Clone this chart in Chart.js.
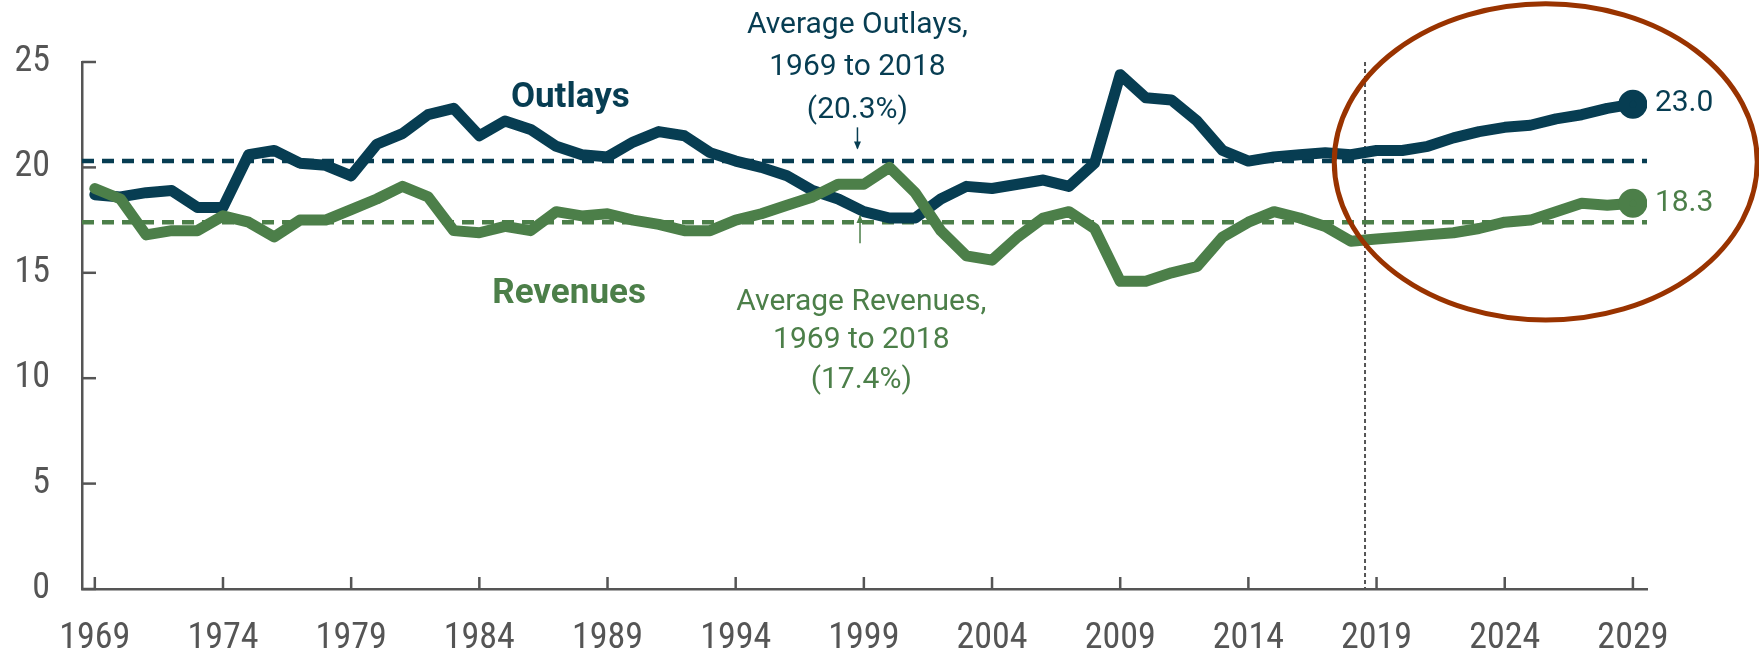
<!DOCTYPE html>
<html>
<head>
<meta charset="utf-8">
<script src="https://cdn.jsdelivr.net/npm/chart.js@4/dist/chart.umd.min.js"></script>
<style>
  html, body { margin: 0; padding: 0; background: #fff; }
  #wrap { width: 1759px; height: 651px; position: relative; }
</style>
</head>
<body>
<div id="wrap"><canvas id="myChart" width="1759" height="651"></canvas></div>
<script>
// Data
const years = [];
for (let y = 1969; y <= 2029; y++) years.push(y);
const outlays = [
  18.7, 18.6, 18.8, 18.9, 18.1, 18.1, 20.6, 20.8, 20.2, 20.1,
  19.6, 21.1, 21.6, 22.5, 22.8, 21.5, 22.2, 21.8, 21.0, 20.6,
  20.5, 21.2, 21.7, 21.5, 20.7, 20.3, 20.0, 19.6, 18.9, 18.5,
  17.9, 17.6, 17.6, 18.5, 19.1, 19.0, 19.2, 19.4, 19.1, 20.2,
  24.4, 23.3, 23.2, 22.2, 20.8, 20.3, 20.5, 20.6, 20.7, 20.6,
  20.8, 20.8, 21.0, 21.4, 21.7, 21.9, 22.0, 22.3, 22.5, 22.8, 23.0
];
const revenues = [
  19.0, 18.5, 16.8, 17.0, 17.0, 17.7, 17.4, 16.7, 17.5, 17.5,
  18.0, 18.5, 19.1, 18.6, 17.0, 16.9, 17.2, 17.0, 17.9, 17.7,
  17.8, 17.5, 17.3, 17.0, 17.0, 17.5, 17.8, 18.2, 18.6, 19.2,
  19.2, 20.0, 18.8, 17.0, 15.8, 15.6, 16.7, 17.6, 17.9, 17.1,
  14.6, 14.6, 15.0, 15.3, 16.7, 17.4, 17.9, 17.6, 17.2, 16.5,
  16.6, 16.7, 16.8, 16.9, 17.1, 17.4, 17.5, 17.9, 18.3, 18.2, 18.3
];
const avgOutlays = 20.3;
const avgRevenues = 17.4;
const xTicks = [1969, 1974, 1979, 1984, 1989, 1994, 1999, 2004, 2009, 2014, 2019, 2024, 2029];
const yTicks = [0, 5, 10, 15, 20, 25];
const projStart = 2018.55;
const xMin = 1968.5, xMax = 2029.55;

const navy = "#073d52";
const green = "#4c7f49";
const grey = "#555555";
const circleColor = "#993300";

const tickFont = "'Liberation Sans Narrow', 'Arial Narrow', 'Roboto Condensed', Roboto, sans-serif";
const noteFont = "Roboto, 'Open Sans', sans-serif";

const pts = (arr) => arr.map((v, i) => ({ x: years[i], y: v }));
const lastOnly = (r) => (ctx) => (ctx.dataIndex === years.length - 1 ? r : 0);

// Annotations, tick marks, projection line, circle
const extras = {
  id: "extras",
  beforeDatasetsDraw(chart) {
    const { ctx, scales: { x, y } } = chart;
    ctx.save();
    // projection divider
    ctx.strokeStyle = grey;
    ctx.lineWidth = 2;
    ctx.setLineDash([4, 3]);
    ctx.beginPath();
    ctx.moveTo(x.getPixelForValue(projStart), y.getPixelForValue(25));
    ctx.lineTo(x.getPixelForValue(projStart), y.getPixelForValue(0));
    ctx.stroke();
    ctx.restore();
  },
  afterDraw(chart) {
    const { ctx, scales: { x, y } } = chart;
    ctx.save();
    // inward tick marks
    ctx.strokeStyle = grey;
    ctx.lineWidth = 2.5;
    const x0 = x.left, y0 = y.bottom;
    yTicks.forEach((v) => {
      const py = y.getPixelForValue(v);
      ctx.beginPath();
      ctx.moveTo(x0, py);
      ctx.lineTo(x0 + 14, py);
      ctx.stroke();
    });
    xTicks.forEach((v) => {
      const px = x.getPixelForValue(v);
      ctx.beginPath();
      ctx.moveTo(px, y0);
      ctx.lineTo(px, y0 - 12);
      ctx.stroke();
    });

    // labels
    ctx.textAlign = "center";
    ctx.textBaseline = "middle";
    const X = (v) => x.getPixelForValue(v);
    const Y = (v) => y.getPixelForValue(v);

    ctx.fillStyle = navy;
    ctx.font = "bold 35px " + noteFont;
    ctx.fillText("Outlays", X(1987.55), Y(23.3));
    ctx.font = "30px " + noteFont;
    ctx.fillText("Average Outlays,", X(1998.75), Y(26.75));
    ctx.fillText("1969 to 2018", X(1998.75), Y(24.75));
    ctx.fillText("(20.3%)", X(1998.75), Y(22.7));

    ctx.fillStyle = green;
    ctx.font = "bold 35px " + noteFont;
    ctx.fillText("Revenues", X(1987.5), Y(14.0));
    ctx.font = "30px " + noteFont;
    ctx.fillText("Average Revenues,", X(1998.9), Y(13.57));
    ctx.fillText("1969 to 2018", X(1998.9), Y(11.8));
    ctx.fillText("(17.4%)", X(1998.9), Y(9.87));

    // end values
    ctx.textAlign = "left";
    const last = years.length - 1;
    ctx.fillStyle = navy;
    ctx.fillText(outlays[last].toFixed(1), X(years[last]) + 22, Y(outlays[last]) - 1);
    ctx.fillStyle = green;
    ctx.fillText(revenues[last].toFixed(1), X(years[last]) + 22, Y(revenues[last]));

    // arrows
    const arrow = (px, ya, yb, color) => {
      ctx.strokeStyle = color;
      ctx.fillStyle = color;
      ctx.lineWidth = 1.5;
      ctx.beginPath();
      ctx.moveTo(px, ya);
      ctx.lineTo(px, yb);
      ctx.stroke();
      const d = yb > ya ? 1 : -1;
      ctx.beginPath();
      ctx.moveTo(px, yb + d);
      ctx.lineTo(px - 3.5, yb - d * 7);
      ctx.lineTo(px + 3.5, yb - d * 7);
      ctx.closePath();
      ctx.fill();
    };
    arrow(X(1998.75), Y(21.9), Y(20.9), navy);
    arrow(X(1998.85), Y(16.4), Y(17.7), green);

    // highlight circle
    ctx.strokeStyle = circleColor;
    ctx.lineWidth = 5;
    ctx.beginPath();
    const cx = X(2025.6), cy = Y(20.26);
    ctx.ellipse(cx, cy, X(2025.6 + 8.25) - cx, cy - Y(20.26 + 7.5), 0, 0, Math.PI * 2);
    ctx.stroke();
    ctx.restore();
  },
};

new Chart("myChart", {
  type: "line",
  data: {
    datasets: [
      {
        label: "Revenues",
        data: pts(revenues),
        borderColor: green,
        backgroundColor: green,
        borderWidth: 11,
        borderJoinStyle: "round",
        borderCapStyle: "round",
        pointRadius: lastOnly(9),
        pointHoverRadius: 0,
        tension: 0,
        order: 1,
      },
      {
        label: "Outlays",
        data: pts(outlays),
        borderColor: navy,
        backgroundColor: navy,
        borderWidth: 11,
        borderJoinStyle: "round",
        borderCapStyle: "round",
        pointRadius: lastOnly(9),
        pointHoverRadius: 0,
        tension: 0,
        order: 2,
      },
      {
        label: "Average Outlays",
        data: [{ x: xMin, y: avgOutlays }, { x: xMax, y: avgOutlays }],
        borderColor: navy,
        borderWidth: 4.5,
        borderDash: [12, 8],
        pointRadius: 0,
        order: 3,
      },
      {
        label: "Average Revenues",
        data: [{ x: xMin, y: avgRevenues }, { x: xMax, y: avgRevenues }],
        borderColor: green,
        borderWidth: 4.5,
        borderDash: [12, 8],
        pointRadius: 0,
        order: 3,
      },
    ],
  },
  options: {
    responsive: false,
    animation: false,
    events: [],
    layout: { padding: { top: 62, right: 112, left: 0, bottom: 0 } },
    plugins: {
      legend: { display: false },
      tooltip: { enabled: false },
      title: { display: false },
    },
    scales: {
      x: {
        type: "linear",
        min: xMin,
        max: xMax,
        afterBuildTicks: (scale) => {
          scale.ticks = xTicks.map((v) => ({ value: v }));
        },
        afterFit: (scale) => {
          scale.height = 62;
        },
        grid: { display: false, drawTicks: false },
        border: { display: true, color: grey, width: 2.5 },
        ticks: {
          color: grey,
          padding: 28,
          maxRotation: 0,
          autoSkip: false,
          font: { family: tickFont, size: 36 },
          callback: (v) => String(v),
        },
      },
      y: {
        min: 0,
        max: 25,
        afterBuildTicks: (scale) => {
          scale.ticks = yTicks.map((v) => ({ value: v }));
        },
        afterFit: (scale) => {
          scale.width = 82;
        },
        grid: { display: false, drawTicks: false },
        border: { display: true, color: grey, width: 2.5 },
        ticks: {
          color: grey,
          padding: 32,
          font: { family: tickFont, size: 36 },
        },
      },
    },
  },
  plugins: [extras],
});
</script>
</body>
</html>
